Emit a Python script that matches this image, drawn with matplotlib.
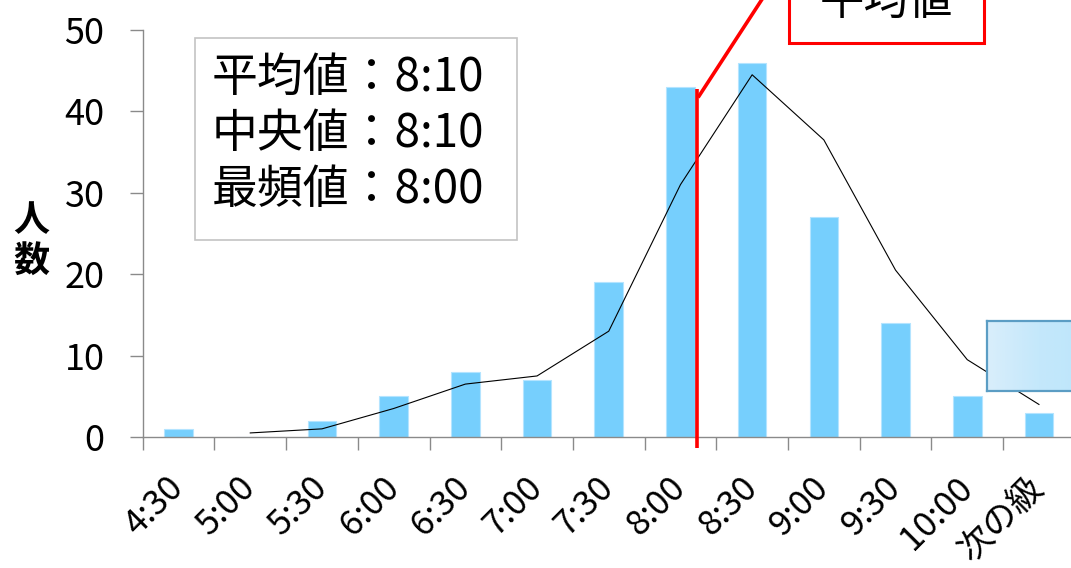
import matplotlib.pyplot as plt
from matplotlib.patches import Rectangle
from matplotlib.colors import LinearSegmentedColormap
import numpy as np

plt.rcParams['font.family'] = ['Noto Sans CJK JP', 'DejaVu Sans']

# --- data ---
categories = ['4:30', '5:00', '5:30', '6:00', '6:30', '7:00', '7:30',
              '8:00', '8:30', '9:00', '9:30', '10:00', '次の級']
counts = [1, 0, 2, 5, 8, 7, 19, 43, 46, 27, 14, 5, 3]
# trend line (starts at the 2nd category)
trend_values = [0.5, 1, 3.5, 6.5, 7.5, 13, 31, 44.5, 36.5, 20.5, 9.5, 4]
stats_lines = ['平均値：8:10', '中央値：8:10', '最頻値：8:00']
mean_label = '平均値'
mean_pos = 7.23      # position of the red mean line (category units)
mean_top = 42.75

W, H = 1071, 568
fig = plt.figure(figsize=(W / 100, H / 100), dpi=100)

def fx(px):
    return px / W

def fy(py):
    return 1 - py / H

ax_left, ax_right = 142.7, 1074.8
ax_top, ax_bot = 30, 437
ax = fig.add_axes([fx(ax_left), fy(ax_bot), fx(ax_right - ax_left), (ax_bot - ax_top) / H])

gray = '#8a8a8a'
x = np.arange(len(categories))
ax.bar(x, counts, width=0.4, color='#76cffd', edgecolor='#b4e4ff', linewidth=0.8, zorder=2)
ax.plot(x[1:], trend_values, color='black', lw=0.8, zorder=3)

ax.set_xlim(-0.5, len(categories) - 0.5)
ax.set_ylim(0, 50)
ax.set_yticks(range(0, 51, 10))
ax.set_xticks(x, categories, rotation=45, ha='right', va='center', rotation_mode='anchor')
ax.set_xticks(np.arange(-0.5, len(categories) - 0.5, 1), minor=True)
ax.tick_params(axis='x', which='major', length=0, pad=33, labelsize=25)
ax.tick_params(axis='x', which='minor', length=9.5, width=1, color=gray)
ax.tick_params(axis='y', length=9.5, width=1, color=gray, pad=18, labelsize=26)

for s in ['top', 'right']:
    ax.spines[s].set_visible(False)
for s in ['left', 'bottom']:
    ax.spines[s].set_color(gray)
    ax.spines[s].set_linewidth(1)

# y label, stacked
fig.text(fx(31), fy(241), '人\n数', fontsize=26, fontweight='bold', ha='center', va='center',
         linespacing=1.15)

# stats box
fig.add_artist(Rectangle((fx(195), fy(240)), fx(517 - 195), (240 - 38) / H, transform=fig.transFigure,
                         facecolor='white', edgecolor='#c4c4c4', lw=1.2, zorder=4))
for i, t in enumerate(stats_lines):
    fig.text(fx(212), fy(78 + i * 56), t, fontsize=33, ha='left', va='center', zorder=5)

# red mean line with callout
ax.plot([mean_pos, mean_pos], [-1.3, mean_top], color='#ff0000', lw=2.6,
        solid_capstyle='butt', clip_on=False, zorder=6)
ax.plot([mean_pos + 0.03, 8.45], [41.9, 58], color='#ff0000', lw=2.6, clip_on=False, zorder=6)
ax.add_patch(Rectangle((8.52, 48.4), 2.71, 10, facecolor='white', edgecolor='#ff0000',
                       lw=2.2, clip_on=False, zorder=7))
ax.text(9.875, 53.6, mean_label, fontsize=32, ha='center', va='center', zorder=8)

# light blue box on the right edge
bx = fig.add_axes([fx(987), fy(391), fx(1090 - 987), (391 - 321) / H], zorder=9)
cmap = LinearSegmentedColormap.from_list('g', ['#d9eefb', '#c4e8fb', '#bde6fb'])
bx.imshow(np.linspace(0, 1, 100).reshape(1, -1), aspect='auto', cmap=cmap, extent=[0, 1, 0, 1])
bx.set_xticks([])
bx.set_yticks([])
for s in bx.spines.values():
    s.set_color('#5b9dc4')
    s.set_linewidth(1.6)

plt.savefig('out.png', dpi=100)
